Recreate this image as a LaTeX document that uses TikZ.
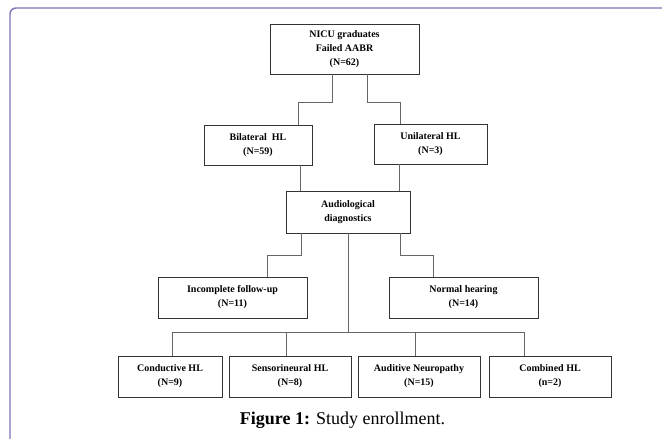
\documentclass[tikz,border=0pt]{standalone}
\usepackage{fontspec}
\setmainfont{Liberation Serif}
\usepackage{tikz}
\usetikzlibrary{positioning, calc}
\usepackage{xcolor}
\definecolor{frame-purple}{HTML}{7B74B6}
\definecolor{box-gray}{HTML}{333333}
\definecolor{line-gray}{HTML}{666666}

\tikzset{
	box/.style={draw=box-gray, line width=0.9pt, align=center, inner sep=0pt, font=\bfseries\fontsize{10}{14}\selectfont},
	link/.style={draw=line-gray, line width=0.9pt}
}

\begin{document}
\begin{tikzpicture}[x=1pt, y=-1pt]
					\useasboundingbox (0,0) rectangle (662,439);
					\draw[frame-purple, line width=1.4pt, rounded corners=6pt] (10,445) -- (10,8) -- (668,8);
					
					\node[box, minimum width=149pt, minimum height=50pt] at (344.5,49) (nicu) {NICU graduates\\Failed AABR\\(N=62)};
					\node[box, minimum width=108pt, minimum height=40pt] at (258,145) (bilateral) {Bilateral\ \ HL\\(N=59)};
					\node[box, minimum width=113pt, minimum height=40pt] at (430.5,144) (unilateral) {Unilateral HL\\(N=3)};
					\node[box, minimum width=124pt, minimum height=42pt] at (348,212) (audio) {Audiological\\diagnostics};
					\node[box, minimum width=149pt, minimum height=41pt] at (232.5,297.5) (incomplete) {Incomplete follow-up\\(N=11)};
					\node[box, minimum width=149pt, minimum height=41pt] at (463.5,297.5) (normal) {Normal hearing\\(N=14)};
					\node[box, minimum width=104pt, minimum height=41pt] at (170,376.5) (conductive) {Conductive HL\\(N=9)};
					\node[box, minimum width=122pt, minimum height=41pt] at (290,376.5) (sensori) {Sensorineural HL\\(N=8)};
					\node[box, minimum width=122pt, minimum height=41pt] at (419,376.5) (neuropathy) {Auditive Neuropathy\\(N=15)};
					\node[box, minimum width=122pt, minimum height=41pt] at (550,376.5) (combined) {Combined HL\\(n=2)};
					
					\draw[link] ([xshift=-12.5pt]nicu.south) -- ++(0,28) -| ([xshift=40pt]bilateral.north);
					\draw[link] ([xshift=22.5pt]nicu.south) -- ++(0,28) -| ([xshift=-30.5pt]unilateral.north);
					\draw[link] ([xshift=42pt]bilateral.south) -- ([xshift=-48pt]audio.north);
					\draw[link] ([xshift=-31.5pt]unilateral.south) -- ([xshift=51pt]audio.north);
					\draw[link] ([xshift=-47pt]audio.south) -- ++(0,22) -| ([xshift=34.5pt]incomplete.north);
					\draw[link] ([xshift=52pt]audio.south) -- ++(0,22) -| ([xshift=-30.5pt]normal.north);
					
					\coordinate (bus) at ($(audio.south)+(0,99)$);
					\draw[link] (audio.south) -- (bus);
					\foreach \n/\s in {conductive/2, sensori/-4, neuropathy/-4, combined/-26}
						\draw[link] (bus) -| ([xshift=\s pt]\n.north);
					
					\node[] at (342.5,420) (caption) {\fontsize{18}{21}\selectfont\textbf{Figure 1:} Study enrollment.};
				\end{tikzpicture}
\end{document}
